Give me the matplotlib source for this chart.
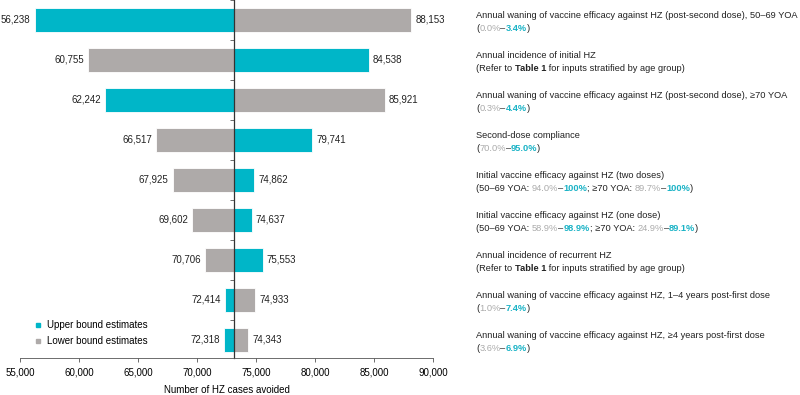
import matplotlib
matplotlib.use("Agg")
import matplotlib.pyplot as plt
from matplotlib.lines import Line2D
from matplotlib.offsetbox import TextArea, HPacker, VPacker, AnnotationBbox
from matplotlib.ticker import FuncFormatter

# valeurs (du haut vers le bas)
base_value = 73150
upper_values = [56238, 84538, 62242, 79741, 74862, 74637, 75553, 72414, 72318]
lower_values = [88153, 60755, 85921, 66517, 67925, 69602, 70706, 74933, 74343]

# libellés à droite : chaque ligne = liste de (texte, style)
# n = normal, b = gras noir, g = gris, t = turquoise gras
row_labels = [
    [[("Annual waning of vaccine efficacy against HZ (post-second dose), 50\u201369 YOA", "n")],
     [("(", "n"), ("0.0%", "g"), ("\u2013", "n"), ("3.4%", "t"), (")", "n")]],
    [[("Annual incidence of initial HZ", "n")],
     [("(Refer to ", "n"), ("Table 1", "b"), (" for inputs stratified by age group)", "n")]],
    [[("Annual waning of vaccine efficacy against HZ (post-second dose), \u226570 YOA", "n")],
     [("(", "n"), ("0.3%", "g"), ("\u2013", "n"), ("4.4%", "t"), (")", "n")]],
    [[("Second-dose compliance", "n")],
     [("(", "n"), ("70.0%", "g"), ("\u2013", "n"), ("95.0%", "t"), (")", "n")]],
    [[("Initial vaccine efficacy against HZ (two doses)", "n")],
     [("(50\u201369 YOA: ", "n"), ("94.0%", "g"), ("\u2013", "n"), ("100%", "t"),
      ("; \u226570 YOA: ", "n"), ("89.7%", "g"), ("\u2013", "n"), ("100%", "t"), (")", "n")]],
    [[("Initial vaccine efficacy against HZ (one dose)", "n")],
     [("(50\u201369 YOA: ", "n"), ("58.9%", "g"), ("\u2013", "n"), ("98.9%", "t"),
      ("; \u226570 YOA: ", "n"), ("24.9%", "g"), ("\u2013", "n"), ("89.1%", "t"), (")", "n")]],
    [[("Annual incidence of recurrent HZ", "n")],
     [("(Refer to ", "n"), ("Table 1", "b"), (" for inputs stratified by age group)", "n")]],
    [[("Annual waning of vaccine efficacy against HZ, 1\u20134 years post-first dose", "n")],
     [("(", "n"), ("1.0%", "g"), ("\u2013", "n"), ("7.4%", "t"), (")", "n")]],
    [[("Annual waning of vaccine efficacy against HZ, \u22654 years post-first dose", "n")],
     [("(", "n"), ("3.6%", "g"), ("\u2013", "n"), ("6.9%", "t"), (")", "n")]],
]

teal = "#00B6C8"
grey = "#AEAAA9"
teal_txt = "#1BB3C6"
grey_txt = "#ABABAB"

plt.rcParams['font.family'] = ['Liberation Sans', 'DejaVu Sans']
fs = 7.0
fs_lab = 6.7

fig = plt.figure(figsize=(8, 3.95), dpi=100)
ax = fig.add_axes([20 / 800, 1 - 358 / 395, 413 / 800, 358 / 395])

rows = list(range(len(upper_values)))
bar_h = 0.62
ax.barh(rows, [u - base_value for u in upper_values], left=base_value, height=bar_h,
        color=teal, edgecolor="white", linewidth=0.6)
ax.barh(rows, [l - base_value for l in lower_values], left=base_value, height=bar_h,
        color=grey, edgecolor="white", linewidth=0.6)

# valeurs au bout des barres
for i in rows:
    for v in (upper_values[i], lower_values[i]):
        if v < base_value:
            ax.text(v - 350, i, f"{v:,}", ha="right", va="center", fontsize=fs, color="#222222")
        else:
            ax.text(v + 350, i, f"{v:,}", ha="left", va="center", fontsize=fs, color="#222222")

ax.set_xlim(55000, 90000)
ax.set_ylim(len(rows) - 0.55, -0.5)
ax.set_xticks(range(55000, 90001, 5000))
ax.xaxis.set_major_formatter(FuncFormatter(lambda x, p: f"{int(x):,}"))
ax.tick_params(axis="x", labelsize=fs, length=3, width=0.6, color="#555555", pad=4)
ax.set_xlabel("Number of HZ cases avoided", fontsize=fs, labelpad=5)

# axe vertical au niveau de la valeur de base
ax.spines["left"].set_position(("data", base_value))
ax.spines["left"].set_color("#333333")
ax.spines["left"].set_linewidth(0.9)
ax.set_yticks([r - 0.5 for r in rows])
ax.set_yticklabels([])
ax.tick_params(axis="y", length=3, width=0.6, color="#555555")
ax.spines["right"].set_visible(False)
ax.spines["top"].set_visible(False)
ax.spines["bottom"].set_color("#555555")
ax.spines["bottom"].set_linewidth(0.6)
ax.set_zorder(1)


def make_piece(txt, style):
    props = dict(fontsize=fs_lab, color="#222222")
    if style == "b":
        props["fontweight"] = "bold"
    elif style == "g":
        props["color"] = grey_txt
    elif style == "t":
        props["color"] = teal_txt
        props["fontweight"] = "bold"
    return TextArea(txt, textprops=props)


for i, lines in enumerate(row_labels):
    packed_lines = []
    for line in lines:
        packed_lines.append(HPacker(children=[make_piece(t, s) for t, s in line],
                                    sep=0, pad=0, align="baseline"))
    box = VPacker(children=packed_lines, sep=2.8, pad=0, align="left")
    ab = AnnotationBbox(box, (476 / 800, i), xycoords=("figure fraction", "data"),
                        box_alignment=(0, 0.6), frameon=False, pad=0,
                        annotation_clip=False)
    ax.add_artist(ab)

# légende
handles = [Line2D([], [], marker="s", linestyle="", color=teal, markersize=3.3),
           Line2D([], [], marker="s", linestyle="", color=grey, markersize=3.3)]
fig.legend(handles, ["Upper bound estimates", "Lower bound estimates"],
           loc="center left", bbox_to_anchor=(24 / 800, 1 - 333 / 395), frameon=False,
           fontsize=fs, handlelength=1, handletextpad=0.5, labelspacing=0.6)

fig.savefig("out.png", dpi=100)
